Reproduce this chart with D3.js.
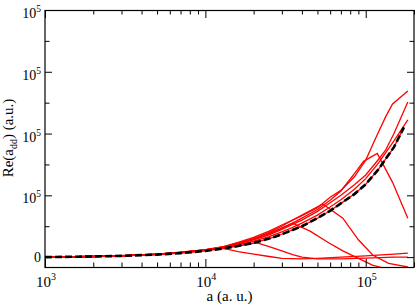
<!DOCTYPE html>
<html>
<head>
<meta charset="utf-8">
<script src="https://cdn.jsdelivr.net/npm/d3@7"></script>
<style>
  body { margin: 0; background: #fff; }
  text { font-family: "Liberation Serif", "Times New Roman", serif; fill: #000; }
</style>
</head>
<body>
<div id="chart"></div>
<script>
// x in a.u., Re values in units of 1e5 a.u.
const aBlack = [1e3, 2e3, 3e3, 5e3, 7e3, 1e4, 1.3e4, 1.6e4, 2e4, 2.5e4, 3e4, 3.5e4, 4e4, 5e4, 6e4, 7e4, 8.5e4, 1e5, 1.2e5, 1.5e5, 1.73e5]
const reBlack = [0, 0.01, 0.02, 0.04, 0.065, 0.1, 0.14, 0.18, 0.23, 0.3, 0.37, 0.44, 0.5, 0.63, 0.75, 0.87, 1.02, 1.18, 1.42, 1.78, 2.1]

const aU = [1e3, 2e3, 3e3, 5e3, 7e3, 1e4, 1.3e4, 1.6e4, 2e4, 2.5e4, 3e4, 3.5e4, 4e4, 5e4, 6e4, 7e4, 8.5e4, 1e5, 1.2e5, 1.5e5, 1.83e5]
const reU = [0, 0.01, 0.02, 0.045, 0.07, 0.11, 0.15, 0.2, 0.26, 0.33, 0.41, 0.48, 0.55, 0.68, 0.81, 0.93, 1.1, 1.27, 1.52, 1.88, 2.22]

const aS = [1e3, 2e3, 3e3, 5e3, 7e3, 1e4, 1.3e4, 1.6e4, 2e4, 2.5e4, 3e4, 3.5e4, 4e4, 5e4, 6e4, 7e4, 8.5e4, 1e5, 1.2e5, 1.33e5, 1.5e5, 1.83e5]
const reS = [0, 0.01, 0.022, 0.047, 0.075, 0.115, 0.16, 0.21, 0.28, 0.36, 0.45, 0.53, 0.6, 0.74, 0.88, 1.0, 1.17, 1.33, 1.58, 1.73, 2.0, 2.51]

const aT = [1e3, 2e3, 3e3, 5e3, 7e3, 1e4, 1.3e4, 1.6e4, 2e4, 2.5e4, 3e4, 3.5e4, 4e4, 5e4, 6e4, 7e4, 8.5e4, 1e5, 1.17e5, 1.33e5, 1.47e5, 1.83e5]
const reT = [0, 0.012, 0.025, 0.05, 0.08, 0.12, 0.17, 0.24, 0.32, 0.42, 0.52, 0.6, 0.67, 0.8, 0.97, 1.08, 1.3, 1.57, 1.96, 2.27, 2.48, 2.69]

const aP1 = [1e3, 2e3, 3e3, 5e3, 7e3, 1e4, 1.3e4, 1.6e4, 2e4, 2.5e4, 3e4, 3.5e4, 4e4, 5e4, 6e4, 7e4, 8.5e4, 9.7e4, 1.18e5, 1.47e5, 1.83e5]
const reP1 = [0, 0.011, 0.022, 0.048, 0.078, 0.118, 0.16, 0.22, 0.29, 0.38, 0.47, 0.55, 0.63, 0.77, 0.92, 1.07, 1.35, 1.55, 1.68, 1.21, 0.63]

const aP2 = [1e3, 2e3, 3e3, 5e3, 7e3, 1e4, 1.3e4, 1.6e4, 2e4, 2.5e4, 3e4, 3.5e4, 4.5e4, 5.8e4, 7.2e4, 9e4, 1.1e5, 1.3e5]
const reP2 = [0, 0.01, 0.021, 0.046, 0.075, 0.115, 0.17, 0.23, 0.3, 0.38, 0.47, 0.55, 0.42, 0.24, 0.1, -0.02, -0.13, -0.18]

const aP3 = [1e3, 2e3, 3e3, 5e3, 7e3, 1e4, 1.3e4, 1.6e4, 2e4, 2.5e4, 3e4, 3.5e4, 4e4, 5.4e4, 7.2e4, 9e4, 1.11e5, 1.39e5, 1.83e5]
const reP3 = [0, 0.01, 0.021, 0.046, 0.075, 0.115, 0.16, 0.22, 0.3, 0.4, 0.5, 0.6, 0.68, 0.86, 0.63, 0.28, 0.03, -0.1, -0.16]

const aL1 = [1e3, 2e3, 3e3, 5e3, 7e3, 1e4, 1.3e4, 1.6e4, 2e4, 2.5e4, 3e4, 4e4, 5e4, 7e4, 1e5, 1.5e5, 1.83e5]
const reL1 = [0, 0.01, 0.02, 0.045, 0.072, 0.11, 0.14, 0.09, 0.05, 0.01, -0.02, -0.03, -0.02, 0.0, 0.02, 0.05, 0.065]

const aL2 = [1e3, 2e3, 3e3, 5e3, 7e3, 1e4, 1.3e4, 1.6e4, 2.1e4, 2.5e4, 3e4, 3.5e4, 4e4, 5e4, 7e4, 1e5, 1.5e5, 1.83e5]
const reL2 = [0, 0.01, 0.021, 0.046, 0.074, 0.113, 0.15, 0.19, 0.23, 0.17, 0.1, 0.04, 0.0, -0.03, -0.03, -0.015, 0.0, 0.0]

const xMajor = [1e3, 1e4, 1e5]
const xMajorExp = ["3", "4", "5"]
const yMajor = [0, 1, 2, 3, 4]
const yLabels = ["0", "10", "10", "10", "10"]
const yLabelExp = ["", "5", "5", "5", "5"]

const MARGIN = { LEFT: 45, RIGHT: 1, TOP: 10, BOTTOM: 39 }
const WIDTH = 415 - MARGIN.LEFT - MARGIN.RIGHT
const HEIGHT = 306 - MARGIN.TOP - MARGIN.BOTTOM

const svg = d3.select("#chart").append("svg")
  .attr("width", 415)
  .attr("height", 306)

const g = svg.append("g")
  .attr("transform", `translate(${MARGIN.LEFT}, ${MARGIN.TOP})`)

// Scales
const x = d3.scaleLog()
  .domain([1e3, 2e5])
  .range([0, WIDTH])
const y = d3.scaleLinear()
  .domain([-0.16, 4])
  .range([HEIGHT, 0])

// minor ticks
const xMinor = []
xMajor.forEach(m => {
  for (let k = 2; k <= 9; k++) if (m * k <= 2e5) xMinor.push(m * k)
})
const yMinor = [0.5, 1.5, 2.5, 3.5]

svg.append("defs").append("clipPath").attr("id", "clip")
  .append("rect").attr("width", WIDTH).attr("height", HEIGHT)

const line = d3.line()
  .x(d => x(d[0]))
  .y(d => y(d[1]))

const plot = g.append("g").attr("clip-path", "url(#clip)")

const redSeries = [
  [aBlack, reBlack], [aL1, reL1], [aL2, reL2], [aP2, reP2], [aP3, reP3],
  [aP1, reP1], [aS, reS], [aU, reU], [aT, reT]
]
redSeries.forEach(s => {
  plot.append("path")
    .datum(d3.zip(s[0], s[1]))
    .attr("fill", "none")
    .attr("stroke", "#ff0000")
    .attr("stroke-width", 1.3)
    .attr("d", line)
})

plot.append("path")
  .datum(d3.zip(aBlack, reBlack))
  .attr("fill", "none")
  .attr("stroke", "#000")
  .attr("stroke-width", 2.6)
  .attr("stroke-dasharray", "7,3")
  .attr("d", line)

// Axes (ticks point inward on all four sides)
function addAxis(axis, tf) {
  const a = g.append("g").attr("transform", tf).call(axis)
  a.select(".domain").remove()
  a.selectAll("line").attr("stroke", "#000")
  return a
}
addAxis(d3.axisBottom(x).tickValues(xMajor).tickSize(-8).tickFormat(""), `translate(0, ${HEIGHT})`)
addAxis(d3.axisBottom(x).tickValues(xMinor).tickSize(-4.5).tickFormat(""), `translate(0, ${HEIGHT})`)
addAxis(d3.axisTop(x).tickValues(xMajor).tickSize(-8).tickFormat(""), "translate(0, 0)")
addAxis(d3.axisTop(x).tickValues(xMinor).tickSize(-4.5).tickFormat(""), "translate(0, 0)")
addAxis(d3.axisLeft(y).tickValues(yMajor).tickSize(-7).tickFormat(""), "translate(0, 0)")
addAxis(d3.axisLeft(y).tickValues(yMinor).tickSize(-4.5).tickFormat(""), "translate(0, 0)")
addAxis(d3.axisRight(y).tickValues(yMajor).tickSize(-7).tickFormat(""), `translate(${WIDTH}, 0)`)
addAxis(d3.axisRight(y).tickValues(yMinor).tickSize(-4.5).tickFormat(""), `translate(${WIDTH}, 0)`)

// frame
g.append("rect")
  .attr("x", 0)
  .attr("y", 0.5)
  .attr("width", WIDTH)
  .attr("height", HEIGHT)
  .attr("fill", "none")
  .attr("stroke", "#000")
  .attr("stroke-width", 1.2)

// X tick labels
xMajor.forEach((v, i) => {
  const t = g.append("text")
    .attr("x", x(v) + 1)
    .attr("y", HEIGHT + 20)
    .attr("font-size", "15px")
    .attr("text-anchor", "middle")
  t.append("tspan").text("10")
  t.append("tspan").attr("font-size", "10px").attr("dy", -7).text(xMajorExp[i])
})

// Y tick labels
yMajor.forEach((v, i) => {
  const t = g.append("text")
    .attr("x", -4)
    .attr("y", y(v) + (yLabelExp[i] ? 8 : 5))
    .attr("font-size", "14px")
    .attr("text-anchor", "end")
  t.append("tspan").text(yLabels[i])
  if (yLabelExp[i]) {
    t.append("tspan").attr("font-size", "9.5px").attr("dy", -6).text(yLabelExp[i])
  }
})

// Labels
g.append("text")
  .attr("x", WIDTH / 2)
  .attr("y", HEIGHT + 34)
  .attr("font-size", "15px")
  .attr("text-anchor", "middle")
  .text("a (a. u.)")

const yLabel = svg.append("text")
  .attr("transform", "translate(13, 138) rotate(-90)")
  .attr("font-size", "15px")
  .attr("text-anchor", "middle")
yLabel.append("tspan").text("Re(a")
yLabel.append("tspan").attr("font-size", "10px").attr("dy", 4).text("dd")
yLabel.append("tspan").attr("dy", -4).text(") (a.u.)")
</script>
</body>
</html>
